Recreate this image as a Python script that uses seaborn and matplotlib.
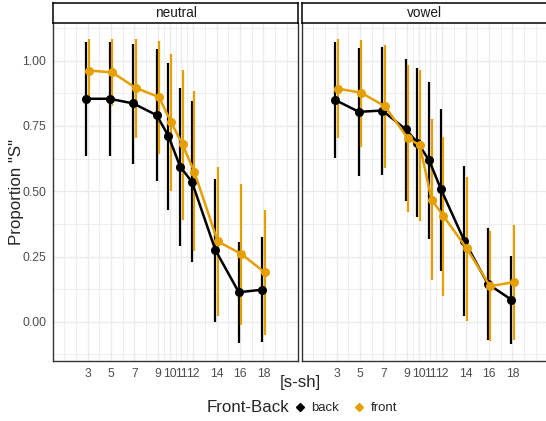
import numpy as np
import pandas as pd
import seaborn as sns
import matplotlib
matplotlib.use("Agg")
from matplotlib import pyplot as plt
from matplotlib.lines import Line2D

# values
steps = [3, 5, 7, 9, 10, 11, 12, 14, 16, 18]
contexts = ["neutral", "vowel"]
groups = ["back", "front"]

neutral_back = [0.854, 0.854, 0.836, 0.791, 0.711, 0.594, 0.536, 0.275, 0.113, 0.123]
neutral_back_lo = [0.635, 0.635, 0.606, 0.539, 0.429, 0.289, 0.228, -0.001, -0.080, -0.078]
neutral_back_hi = [1.073, 1.073, 1.065, 1.045, 0.991, 0.897, 0.845, 0.548, 0.307, 0.323]

neutral_front = [0.962, 0.955, 0.896, 0.860, 0.766, 0.679, 0.575, 0.308, 0.260, 0.190]
neutral_front_lo = [0.842, 0.826, 0.705, 0.641, 0.501, 0.390, 0.270, 0.024, -0.014, -0.052]
neutral_front_hi = [1.083, 1.083, 1.083, 1.074, 1.027, 0.966, 0.883, 0.593, 0.527, 0.427]

vowel_back = [0.849, 0.804, 0.809, 0.737, 0.686, 0.618, 0.508, 0.310, 0.145, 0.085]
vowel_back_lo = [0.628, 0.558, 0.562, 0.463, 0.400, 0.317, 0.196, 0.024, -0.071, -0.084]
vowel_back_hi = [1.070, 1.048, 1.052, 1.008, 0.972, 0.919, 0.816, 0.597, 0.361, 0.253]

vowel_front = [0.893, 0.877, 0.826, 0.702, 0.676, 0.468, 0.406, 0.281, 0.136, 0.152]
vowel_front_lo = [0.702, 0.669, 0.588, 0.419, 0.387, 0.160, 0.100, 0.003, -0.074, -0.069]
vowel_front_hi = [1.084, 1.080, 1.061, 0.985, 0.966, 0.777, 0.707, 0.556, 0.348, 0.370]

series = {
    ("neutral", "back"): (neutral_back, neutral_back_lo, neutral_back_hi),
    ("neutral", "front"): (neutral_front, neutral_front_lo, neutral_front_hi),
    ("vowel", "back"): (vowel_back, vowel_back_lo, vowel_back_hi),
    ("vowel", "front"): (vowel_front, vowel_front_lo, vowel_front_hi),
}

rows = []
for (ctx, grp), (m, lo, hi) in series.items():
    for s, a, b, c in zip(steps, m, lo, hi):
        rows.append(dict(context=ctx, group=grp, step=s, prop=a, lo=b, hi=c))
df = pd.DataFrame(rows)
dodge = {"back": -0.1, "front": 0.1}
df["xd"] = df["step"] + df["group"].map(dodge)

palette = {"back": "black", "front": "#E69F00"}

sns.set_style("white")
plt.rcParams["font.family"] = ["Liberation Sans", "DejaVu Sans"]

fig = plt.figure(figsize=(5.46, 4.21), dpi=100)
W, H = 546, 421
top, bottom = 23.3, 360.7
lefts = [53, 302]
pw = 245

minor_x = [1, 2, 4, 6, 8, 9.5, 10.5, 11.5, 13, 15, 17, 19, 20]
grid_c = "#EBEBEB"

for i, ctx in enumerate(contexts):
    ax = fig.add_axes([lefts[i] / W, 1 - bottom / H, pw / W, (bottom - top) / H])
    sub = df[df["context"] == ctx]
    for grp in groups:
        g = sub[sub["group"] == grp]
        ax.vlines(g["xd"], g["lo"], g["hi"], color=palette[grp], lw=1.6, zorder=2)
    sns.lineplot(data=sub, x="xd", y="prop", hue="group", hue_order=groups,
                 palette=palette, marker="o", markersize=6.5, markeredgewidth=0,
                 lw=1.8, legend=False, ax=ax, zorder=3, estimator=None)
    ax.set_xlim(0.05, 20.95)
    ax.set_ylim(-0.149, 1.143)
    ax.set_xticks(steps)
    ax.set_xticks(minor_x, minor=True)
    ax.set_yticks([0, 0.25, 0.5, 0.75, 1.0])
    ax.set_yticks([-0.125, 0.125, 0.375, 0.625, 0.875, 1.125], minor=True)
    ax.grid(True, which="major", color=grid_c, lw=1.0, zorder=0)
    ax.grid(True, which="minor", color=grid_c, lw=0.6, zorder=0)
    ax.set_axisbelow(True)
    ax.tick_params(which="major", length=3, width=0.8, color="#333333",
                   labelsize=8.7, labelcolor="#4D4D4D", pad=2)
    ax.tick_params(which="minor", length=0)
    if i == 0:
        ax.set_yticklabels(["0.00", "0.25", "0.50", "0.75", "1.00"])
    else:
        ax.tick_params(axis="y", labelleft=False, length=0)
    ax.set_xlabel("")
    ax.set_ylabel("")
    for side in ["left", "bottom", "right"]:
        ax.spines[side].set_color("#333333")
        ax.spines[side].set_linewidth(1.0)
    ax.spines["top"].set_visible(False)
    if i == 1:
        ax.spines["right"].set_visible(False)

    # facet strip
    sax = fig.add_axes([lefts[i] / W, 1 - top / H, pw / W, 20 / H])
    sax.set_xticks([])
    sax.set_yticks([])
    for sp in sax.spines.values():
        sp.set_color("black")
        sp.set_linewidth(1.1)
    sax.text(0.5, 0.5, ctx, ha="center", va="center", fontsize=9.8,
             color="#1A1A1A", transform=sax.transAxes)

fig.text(17 / W, 1 - 192 / H, 'Proportion "S"', rotation=90, ha="center",
         va="center", fontsize=12.2)
fig.text(300 / W, 1 - 383 / H, "[s-sh]", ha="center", va="center", fontsize=12.2)

fig.text(289 / W, 1 - 408 / H, "Front-Back", ha="right", va="center", fontsize=12.2)
handles = [Line2D([], [], color=palette[g], marker="D", markersize=4.5, lw=0)
           for g in groups]
fig.legend(handles, groups, loc="center left", bbox_to_anchor=(293 / W, 1 - 408 / H),
           ncol=2, frameon=False, fontsize=9.5, handlelength=1.0, handletextpad=0.4,
           columnspacing=1.0, borderaxespad=0, borderpad=0)

fig.savefig("out.png", dpi=100)
